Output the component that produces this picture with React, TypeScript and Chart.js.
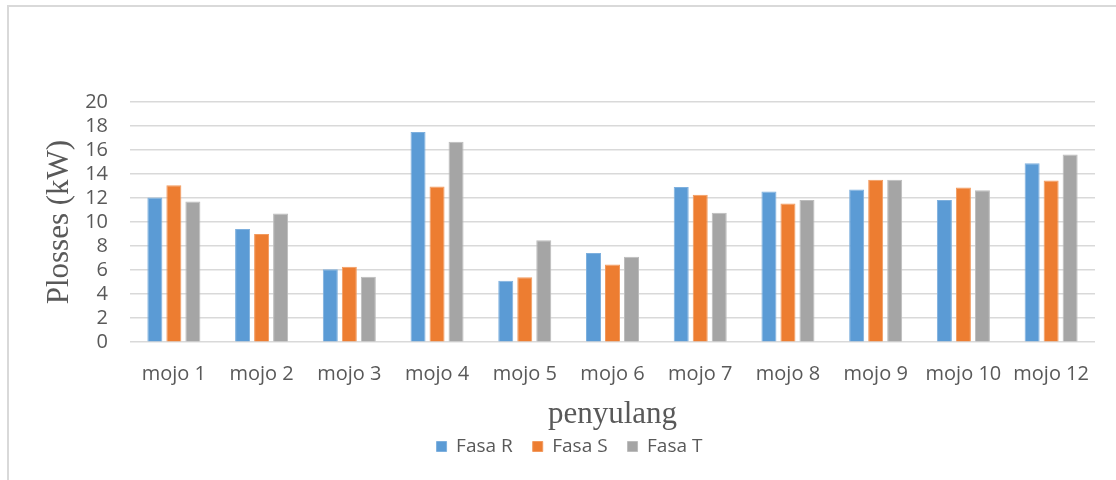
import React, { useEffect, useRef } from "react";
import { Chart, registerables } from "chart.js";

Chart.register(...registerables);

// Feeders (penyulang) on the x axis
const categories = [
  "mojo 1", "mojo 2", "mojo 3", "mojo 4", "mojo 5", "mojo 6",
  "mojo 7", "mojo 8", "mojo 9", "mojo 10", "mojo 12",
];

// Power losses per phase, kW
const fasaR = [12.05, 9.42, 6.07, 17.5, 5.12, 7.42, 12.93, 12.55, 12.72, 11.83, 14.9];
const fasaS = [13.07, 9.0, 6.29, 12.97, 5.4, 6.48, 12.27, 11.55, 13.52, 12.88, 13.47];
const fasaT = [11.72, 10.72, 5.45, 16.7, 8.48, 7.12, 10.77, 11.83, 13.52, 12.66, 15.63];

const seriesNames = ["Fasa R", "Fasa S", "Fasa T"];
const yTicks = { min: 0, max: 20, step: 2 };

const labelFont = "'Open Sans', 'Noto Sans', sans-serif";
const titleFont = "'Liberation Serif', 'Times New Roman', serif";
const textColor = "#595959";

// White background plus the thin grey frame around the chart
const framePlugin = {
  id: "frame",
  beforeDraw(chart: Chart) {
    const { ctx, width, height } = chart;
    ctx.save();
    ctx.fillStyle = "#ffffff";
    ctx.fillRect(0, 0, width, height);
    ctx.fillStyle = "#d9d9d9";
    ctx.fillRect(7, 5, 2, height - 5);
    ctx.fillRect(7, 5, width - 7, 2);
    ctx.restore();
  },
};

export default function App() {
  const canvasRef = useRef<HTMLCanvasElement | null>(null);

  useEffect(() => {
    if (!canvasRef.current) return;
    const chart = new Chart(canvasRef.current, {
      type: "bar",
      data: {
        labels: categories,
        datasets: [
          { label: seriesNames[0], data: fasaR, backgroundColor: "#5b9bd5", borderColor: "#7eb0de", borderWidth: 1 },
          { label: seriesNames[1], data: fasaS, backgroundColor: "#ed7d31", borderColor: "#f29a5e", borderWidth: 1 },
          { label: seriesNames[2], data: fasaT, backgroundColor: "#a5a5a5", borderColor: "#bcbcbc", borderWidth: 1 },
        ],
      },
      plugins: [framePlugin],
      options: {
        responsive: false,
        animation: false,
        devicePixelRatio: 1,
        layout: { padding: { left: 44, right: 21, top: 102, bottom: 14 } },
        datasets: {
          bar: { categoryPercentage: 0.65, barPercentage: 0.79 },
        },
        plugins: {
          tooltip: { enabled: false },
          legend: {
            position: "bottom",
            labels: {
              boxWidth: 10,
              boxHeight: 10,
              padding: 20,
              color: textColor,
              font: { family: labelFont, size: 19 },
            },
          },
        },
        scales: {
          x: {
            grid: { display: false, drawTicks: false },
            border: { display: false },
            ticks: {
              color: textColor,
              padding: 20,
              maxRotation: 0,
              autoSkip: false,
              font: { family: labelFont, size: 20 },
            },
            title: {
              display: true,
              text: "penyulang",
              color: textColor,
              padding: { top: -4, bottom: -10 },
              font: { family: titleFont, size: 31, lineHeight: 0.8 },
            },
          },
          y: {
            min: yTicks.min,
            max: yTicks.max,
            grid: { color: "#d9d9d9", lineWidth: 1.5, drawTicks: false },
            border: { display: false },
            ticks: {
              stepSize: yTicks.step,
              autoSkip: false,
              color: textColor,
              padding: 22,
              font: { family: labelFont, size: 20 },
            },
            title: {
              display: true,
              text: "Plosses (kW)",
              color: textColor,
              padding: 0,
              font: { family: titleFont, size: 31, lineHeight: 1 },
            },
            afterFit(scale: any) {
              scale.width = 86;
            },
          },
        },
      },
    });
    return () => chart.destroy();
  }, []);

  return (
    <div style={{ position: "absolute", left: 0, top: 0, width: 1116, height: 480 }}>
      <canvas ref={canvasRef} width={1116} height={480} style={{ display: "block" }} />
    </div>
  );
}
